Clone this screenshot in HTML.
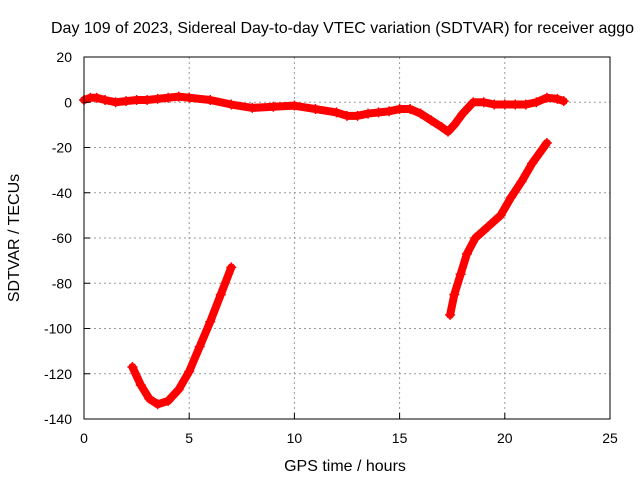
<!DOCTYPE html>
<html><head><meta charset="utf-8"><style>
html,body{margin:0;padding:0;background:#fff}
svg{display:block;font-family:"Liberation Sans",sans-serif}
</style></head><body>
<svg id="chart" width="640" height="480" viewBox="0 0 640 480" xmlns="http://www.w3.org/2000/svg">
<text x="51" y="33" font-size="16" fill="#000">Day 109 of 2023, Sidereal Day-to-day VTEC variation (SDTVAR) for receiver aggo</text>
<g id="grid"></g>
<g id="series"></g>
<rect x="84" y="57" width="526" height="362" fill="none" stroke="#000" stroke-width="1"/>
<g id="ticks"></g>
<text x="345" y="471" font-size="16" text-anchor="middle">GPS time / hours</text>
<text x="19" y="238" font-size="16" text-anchor="middle" transform="rotate(-90 19 238)">SDTVAR / TECUs</text>
</svg>
<script>
const xTicks=[0,5,10,15,20,25];
const yTicks=[20,0,-20,-40,-60,-80,-100,-120,-140];
const s1t=[0,0.3,0.6,1,1.5,2,2.5,3,3.5,4,4.5,5,6,7,8,9,10,11,12,12.5,13,13.5,14,14.5,15,15.5,16,16.5,17,17.3,17.6,18,18.5,19,19.5,20,20.5,21,21.5,22,22.5,22.8];
const s1v=[1,2,2,1,0,0.5,1,1,1.5,2,2.5,2,1,-1,-2.5,-2,-1.5,-3,-4.5,-6,-6,-5,-4.5,-4,-3,-3,-5,-8,-11,-13,-10,-5,0,0,-1,-1,-1,-1,0,2,1.5,0.5];
const s2t=[2.3,2.7,3.1,3.5,4,4.5,5,5.5,6,6.5,7];
const s2v=[-117,-125,-131,-133.5,-132,-127,-119,-108,-97,-85,-73];
const s3t=[17.4,17.6,17.9,18.2,18.6,19.2,19.8,20.3,20.8,21.3,22];
const s3v=[-94,-85,-76,-67,-60,-55,-50,-42,-35,-27,-18];
const X=t=>84+t*526/25;
const Y=v=>57+(20-v)*362/160;
const NS="http://www.w3.org/2000/svg";
const grid=document.getElementById('grid'),ticks=document.getElementById('ticks'),ser=document.getElementById('series');
function mk(tag,attrs,parent){const e=document.createElementNS(NS,tag);for(const k in attrs)e.setAttribute(k,attrs[k]);parent.appendChild(e);return e;}
xTicks.forEach(t=>{
 if(t>0&&t<25){const g=mk('line',{x1:X(t),x2:X(t),y1:57,y2:419,stroke:'#999','stroke-dasharray':'2,3'},grid);
 
 }
 const tk=mk('line',{x1:X(t),x2:X(t),y1:419,y2:413,stroke:'#000'},ticks);
 
 
 const l=mk('text',{x:X(t),y:443,'font-size':14,'text-anchor':'middle'},ticks);l.textContent=t;
 
 
});
yTicks.forEach(v=>{
 if(v<20&&v>-140){const g=mk('line',{x1:84,x2:610,y1:Y(v),y2:Y(v),stroke:'#999','stroke-dasharray':'2,3'},grid);
 
 }
 const tk=mk('line',{x1:84,x2:90,y1:Y(v),y2:Y(v),stroke:'#000'},ticks);
 
 
 const l=mk('text',{x:72,y:Y(v)+5,'font-size':14,'text-anchor':'end'},ticks);l.textContent=v;
 
 
});
function series(ts,vs,name){
 const pts=ts.map((t,i)=>X(t)+','+Y(vs[i])).join(' ');
 const p=mk('polyline',{points:pts,fill:'none',stroke:'#f00','stroke-width':8,'stroke-linejoin':'round','stroke-linecap':'round'},ser);
 
 
 ts.forEach((t,i)=>{const m=mk('path',{d:`M${X(t)-5},${Y(vs[i])}h10M${X(t)},${Y(vs[i])-5}v10`,stroke:'#f00','stroke-width':1.5},ser);
 
 });
}
series(s1t,s1v,'series-main');
series(s2t,s2v,'series-arc-early');
series(s3t,s3v,'series-arc-late');
</script>
</body></html>
